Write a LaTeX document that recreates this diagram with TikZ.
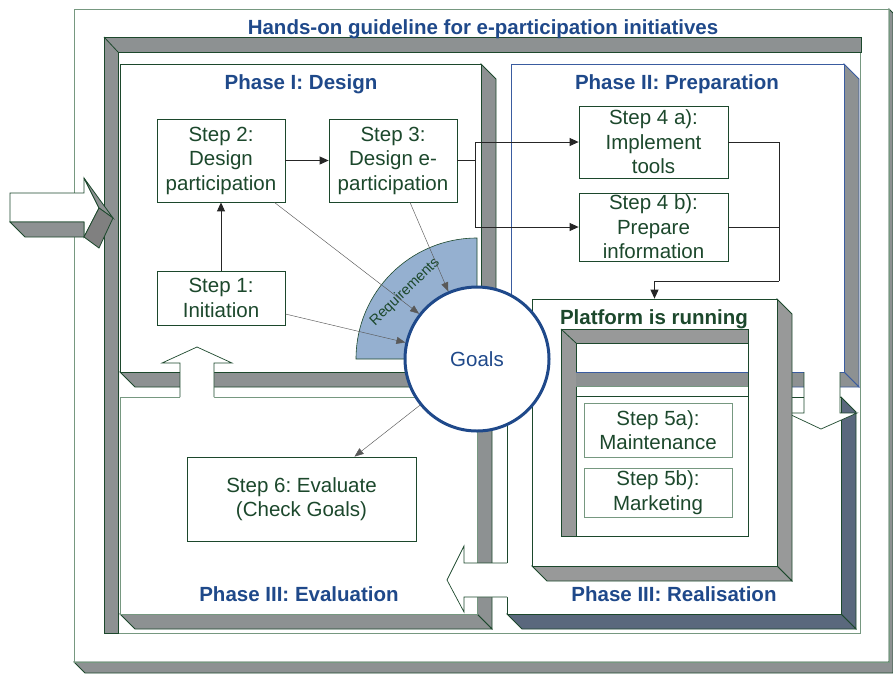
\documentclass[tikz,border=0pt]{standalone}
\usepackage{fontspec}
\setmainfont{Liberation Sans}
\usetikzlibrary{arrows.meta}
\frenchspacing
\definecolor{leafgreen}{RGB}{28,72,44}
\definecolor{palegreen}{RGB}{118,152,128}
\definecolor{slabgray}{RGB}{141,145,146}
\definecolor{platgray}{RGB}{152,153,153}
\definecolor{slate}{RGB}{90,104,125}
\definecolor{titleblue}{RGB}{31,73,138}
\definecolor{prepblue}{RGB}{58,92,160}
\definecolor{reqblue}{RGB}{149,176,208}
\newcommand{\stepfont}{\fontsize{20.5}{24.5}\selectfont}
\newcommand{\phasebox}[6]{%
  \filldraw[#5] (#3,#2) -- (#3+15,#2+15) -- (#3+15,#4+15) -- (#3,#4) -- cycle;
  \filldraw[#5] (#1,#4) -- (#3,#4) -- (#3+15,#4+15) -- (#1+15,#4+15) -- cycle;
  \filldraw[fill=white,draw=#6,line width=0.8pt] (#1,#2) rectangle (#3,#4);}
\tikzset{step node/.style={rectangle,draw=leafgreen,fill=white,line width=0.8pt,inner sep=0pt,align=center,text=leafgreen,font=\stepfont},
  phase title/.style={anchor=base,text=titleblue,font=\bfseries\stepfont},
  slab/.style={fill=slabgray,draw=leafgreen,line width=0.8pt},
  flow/.style={draw=black!85,line width=0.9pt,-{Triangle[length=9pt,width=8pt]}},
  hint/.style={draw=black!65,line width=0.45pt,-{Triangle[length=9pt,width=7pt]}},
  hollow arrow/.style={draw=leafgreen,line width=0.7pt},}

\begin{document}
\begin{tikzpicture}[x=1pt,y=-1pt]
  \useasboundingbox (0,0) rectangle (893,673);
  %% Frames
  \filldraw[slab] (74,662) -- (889,662) -- (889,9) -- (893,13) -- (893,673) -- (85,673) -- cycle;
  \draw[palegreen,line width=0.8pt] (74,9) rectangle (889,662);
  \draw[palegreen,line width=0.8pt] (104,37) rectangle (860,633);
  \filldraw[slab] (104,37) -- (861,37) -- (861,52) -- (118,52) -- (118,633) -- (104,633) -- cycle;
  \draw[leafgreen,line width=0.8pt] (104,37) -- (118,52);
  %% Phases
  \phasebox{120}{64}{481}{372}{slab}{leafgreen}
  \phasebox{511}{64}{844}{372}{slab,draw=prepblue}{prepblue}
  \phasebox{120}{397}{477}{614}{slab}{palegreen}
  \phasebox{507}{397}{841}{614}{slab,fill=slate}{leafgreen}
  %% Hollow arrows between phases
  \fill[white] (180,398) -- (180,363) -- (162,363) -- (197,347) -- (232,363) -- (214,363) -- (214,398) -- cycle;
  \draw[hollow arrow] (180,397) -- (180,363) -- (162,363) -- (197,347) -- (232,363) -- (214,363) -- (214,397);
  \fill[white] (508,563) -- (464,563) -- (464,546) -- (447,580) -- (464,612) -- (464,597) -- (508,597) -- cycle;
  \draw[hollow arrow] (507,563) -- (464,563) -- (464,546) -- (447,580) -- (464,612) -- (464,597) -- (507,597);
  \fill[white] (804,372) -- (804,413) -- (787,413) -- (821,429) -- (857,413) -- (840,413) -- (840,372) -- cycle;
  \draw[hollow arrow] (804,372) -- (804,413) -- (787,413) -- (821,429) -- (857,413) -- (840,413) -- (840,372);
  %% Platform
  \phasebox{532}{299}{777}{566}{slab,fill=platgray}{leafgreen}
  \node[draw=leafgreen,line width=0.8pt,minimum width=245pt,minimum height=267pt,inner sep=0pt] (plat) at (654.5,432.5) {};
  \filldraw[fill=white,draw=leafgreen,line width=0.8pt] (561,329) rectangle (748,536);
  \filldraw[slab,fill=platgray] (561,329) -- (748,329) -- (748,343) -- (576,343) -- (576,536) -- (561,536) -- cycle;
  \draw[leafgreen,line width=0.8pt] (561,329) -- (576,343);
  \fill[slabgray] (576,372) rectangle (748,386);
  \draw[prepblue,line width=0.9pt] (576,372) -- (748,372);
  \draw[palegreen,line width=0.6pt] (576,386) -- (748,386);
  \draw[leafgreen,line width=0.6pt] (576,396) -- (748,396);
  %% Goals
  \filldraw[fill=reqblue,draw=leafgreen,line width=0.6pt] (477,359) -- ++(-121,0) arc[start angle=180,end angle=90,radius=121pt] -- cycle;
  \node[circle,draw=titleblue,line width=3pt,fill=white,minimum size=144pt,inner sep=0pt,text=titleblue,font=\stepfont] (goals) at (477,359) {Goals};
  \node[rotate=44,text=leafgreen,font=\fontsize{14.5}{17}\selectfont] (req) at (405,292) {Requirements};
  %% Nodes
  \node[step node,minimum width=128pt,minimum height=54pt] (s1) at (221,298) {Step 1:\\Initiation};
  \node[step node,minimum width=128pt,minimum height=83pt] (s2) at (221,160.5) {Step 2:\\Design\\participation};
  \node[step node,minimum width=128pt,minimum height=83pt] (s3) at (393,160.5) {Step 3:\\Design e-\\participation};
  \node[step node,minimum width=149pt,minimum height=72pt] (s4a) at (653.5,142) {Step 4 a):\\Implement\\tools};
  \node[step node,minimum width=149pt,minimum height=68pt] (s4b) at (653.5,227) {Step 4 b):\\Prepare\\information};
  \node[step node,draw=palegreen,minimum width=148pt,minimum height=54pt] (s5a) at (658,430) {Step 5a):\\Maintenance};
  \node[step node,draw=palegreen,minimum width=148pt,minimum height=49pt] (s5b) at (658,492.5) {Step 5b):\\Marketing};
  \node[step node,minimum width=229pt,minimum height=84pt] (s6) at (301.5,499) {Step 6: Evaluate\\(Check Goals)};
  \coordinate (j1) at (475,160.5);
  \coordinate (j2) at (779,281);
  %% Paths
  \draw[flow] (s1) -- (s2);
  \draw[flow] (s2) -- (s3);
  \draw[flow,-] (s3) -- (j1);
  \draw[flow] (j1) |- (s4a);
  \draw[flow] (j1) |- (s4b);
  \draw[flow,-] (s4a) -| (j2);
  \draw[flow,-] (s4b) -| (j2);
  \draw[flow] (j2) -| (plat);
  \draw[hint] ([xshift=-11pt]s2.south east) -- (goals.142);
  \draw[hint] ([xshift=17pt]s3.south) -- (goals.113);
  \draw[hint] ([yshift=-16pt]s1.east) -- (goals.167);
  \draw[hint] (goals.219) -- ([xshift=53pt]s6.north);
  %% Titles
  \node[phase title] (t0) at (483,34) {Hands-on guideline for e-participation initiatives};
  \node[phase title] (t1) at (301,89) {Phase I: Design};
  \node[phase title] (t2) at (677,89) {Phase II: Preparation};
  \node[phase title] (t3) at (299,601) {Phase III: Evaluation};
  \node[phase title] (t4) at (674,601) {Phase III: Realisation};
  \node[phase title,text=leafgreen] (t5) at (654,324) {Platform is running};
  %% Entry arrow
  \filldraw[fill=white,draw=leafgreen,line width=0.7pt] (10,193) -- (84,193) -- (84,178) -- (99,208) -- (84,237) -- (84,222) -- (10,222) -- cycle;
  \filldraw[slab] (10,222) -- (84,222) -- (84,237) -- (25,237) -- cycle;
  \filldraw[slab] (84,178) -- (113,218) -- (99,208) -- cycle;
  \filldraw[slab,fill=gray] (84,237) -- (99,208) -- (113,218) -- (99,248) -- cycle;
\end{tikzpicture}
\end{document}
